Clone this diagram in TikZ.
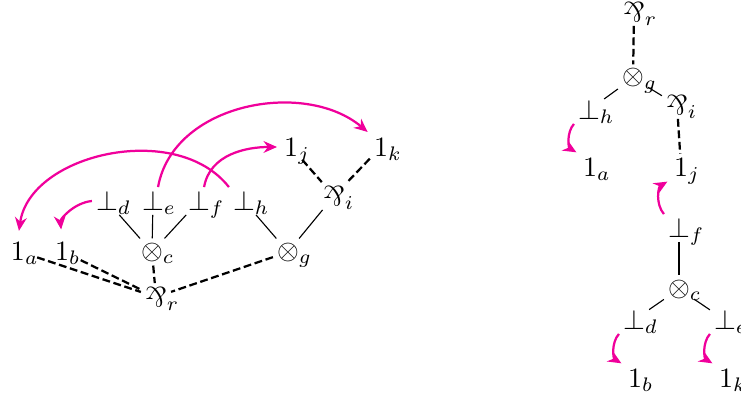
\documentclass[tikz,border=0pt]{standalone}
\usepackage{amsmath}
\usepackage{amssymb}
\usepackage{mathtools}
\usepackage{graphicx}
\usepackage{tikz}
\usetikzlibrary{arrows.meta}
\definecolor{linkpink}{RGB}{240,0,155}
\tikzset{
  every node/.style={inner sep=1.3pt},
  wire/.style={thin},
  axiomlink/.style={thick, dash pattern=on 2.8pt off 1.3pt},
  jump/.style={-{Stealth[length=4.8pt,width=4.2pt]}, thick, linkpink, shorten >=1pt}
}
\newcommand{\parrsym}{\mathord{\rotatebox[origin=c]{180}{$\&$}}}
\newcommand{\nd}[2]{#1\mathrlap{\smash{{}_{#2}}}}

\begin{document}
\begin{tikzpicture}[x=0.357pt,y=-0.357pt]
\useasboundingbox (0,0) rectangle (741,398);

% left net
\node (a1) at (18,251) {$\nd{1}{a}$};
\node (b1) at (62,251) {$\nd{1}{b}$};
\node (d1) at (107,201) {$\nd{\bot}{d}$};
\node (e1) at (153,201) {$\nd{\bot}{e}$};
\node (f1) at (199,201) {$\nd{\bot}{f}$};
\node (h1) at (244,201) {$\nd{\bot}{h}$};
\node (c1) at (152,252) {$\nd{\otimes}{c}$};
\node (g1) at (288,252) {$\nd{\otimes}{g}$};
\node (r1) at (156,297) {$\nd{\parrsym}{r}$};
\node (i1) at (334,196) {$\nd{\parrsym}{i}$};
\node (j1) at (291,147) {$\nd{1}{j}$};
\node (k1) at (381,147) {$\nd{1}{k}$};

\draw[wire] (d1) -- (c1);
\draw[wire] (e1) -- (c1);
\draw[wire] (f1) -- (c1);
\draw[wire] (h1) -- (g1);
\draw[wire] (i1) -- (g1);

\draw[axiomlink, shorten <=3pt] (a1) -- (r1);
\draw[axiomlink, shorten <=3pt] (b1) -- (r1);
\draw[axiomlink] (c1) -- (r1);
\draw[axiomlink] (g1) -- (r1);
\draw[axiomlink] (j1) -- (i1);
\draw[axiomlink] (k1) -- (i1);

\draw[jump, shorten >=3pt] (d1.west) to[bend right=45] (b1.north);
\draw[jump, shorten >=2.5pt] (h1.north west) to[out=128,in=82] (a1.north);
\draw[jump] (e1.70) to[out=80,in=140] (k1.north west);
\draw[jump] (f1.70) to[out=80,in=180] (j1.west);

% right net
\node (r2) at (634,12) {$\nd{\parrsym}{r}$};
\node (g2) at (633,78) {$\nd{\otimes}{g}$};
\node (h2) at (589,110) {$\nd{\bot}{h}$};
\node (i2) at (677,105) {$\nd{\parrsym}{i}$};
\node (a2) at (590,167) {$\nd{1}{a}$};
\node (j2) at (681,167) {$\nd{1}{j}$};
\node (f2) at (679,228) {$\nd{\bot}{f}$};
\node (c2) at (679,289) {$\nd{\otimes}{c}$};
\node (d2) at (634,320) {$\nd{\bot}{d}$};
\node (e2) at (725,320) {$\nd{\bot}{e}$};
\node (b2) at (635,378) {$\nd{1}{b}$};
\node (k2) at (726,378) {$\nd{1}{k}$};

\draw[axiomlink] (r2) -- (g2);
\draw[wire] (g2) -- (h2);
\draw[wire] (g2) -- (i2);
\draw[axiomlink] (i2) -- (j2);
\draw[wire] (f2) -- (c2);
\draw[wire] (c2) -- (d2);
\draw[wire] (c2) -- (e2);

\draw[jump] (h2.south west) to[bend right=50] (a2.north west);
\draw[jump] (f2.north west) to[bend left=50] (j2.south west);
\draw[jump] (d2.south west) to[bend right=50] (b2.north west);
\draw[jump] (e2.south west) to[bend right=50] (k2.north west);
\end{tikzpicture}
\end{document}
